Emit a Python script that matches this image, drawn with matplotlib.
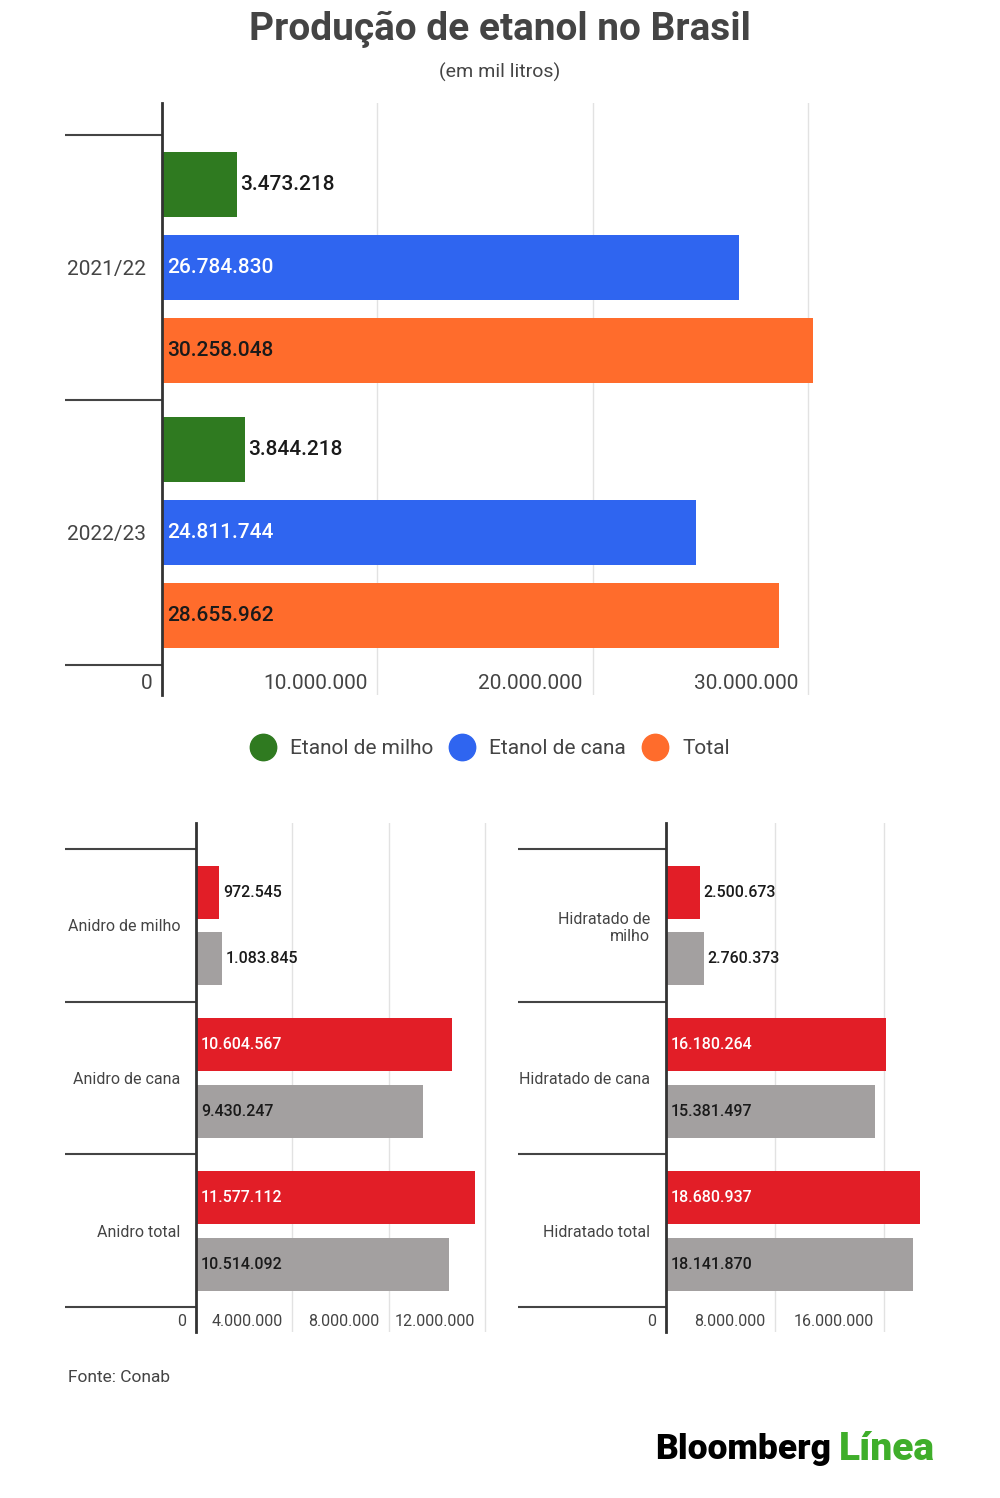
import matplotlib.pyplot as plt
from matplotlib.lines import Line2D

plt.rcParams['font.family'] = ['Roboto', 'DejaVu Sans']

# dados (em mil litros)
safras = ['2021/22', '2022/23']
series_top = ['Etanol de milho', 'Etanol de cana', 'Total']
milho = [3473218, 3844218]
cana = [26784830, 24811744]
total = [30258048, 28655962]
top_ticks = [0, 10000000, 20000000, 30000000]
top_tick_labels = ['0', '10.000.000', '20.000.000', '30.000.000']

anidro_cats = ['Anidro de milho', 'Anidro de cana', 'Anidro total']
anidro_2122 = [972545, 10604567, 11577112]
anidro_2223 = [1083845, 9430247, 10514092]
anidro_ticks = [0, 4000000, 8000000, 12000000]
anidro_tick_labels = ['0', '4.000.000', '8.000.000', '12.000.000']

hidr_cats = ['Hidratado de\nmilho', 'Hidratado de cana', 'Hidratado total']
hidr_2122 = [2500673, 16180264, 18680937]
hidr_2223 = [2760373, 15381497, 18141870]
hidr_ticks = [0, 8000000, 16000000]
hidr_tick_labels = ['0', '8.000.000', '16.000.000']

GREEN = '#2f7a20'
BLUE = '#2f65f0'
ORANGE = '#ff6c2c'
RED = '#e21e27'
GRAY = '#a3a0a0'
DARK = '#444444'
GRID = '#e2e2e2'


def fmt(v):
    return f'{v:,}'.replace(',', '.')


def style_axes(ax, ngroups, sep_len, label_size, cats):
    for s in ['top', 'right', 'bottom']:
        ax.spines[s].set_visible(False)
    ax.spines['left'].set_color('#333333')
    ax.spines['left'].set_linewidth(2)
    ax.spines['left'].set_zorder(5)
    # separadores de categoria = ticks maiores compridos
    ax.set_yticks(range(ngroups + 1))
    ax.set_yticklabels([])
    ax.tick_params(axis='y', which='major', length=sep_len, width=1.5, color=DARK)
    ax.set_yticks([g + 0.5 for g in range(ngroups)], minor=True)
    ax.set_yticklabels(cats, minor=True, fontsize=label_size, color=DARK)
    ax.tick_params(axis='y', which='minor', length=0, pad=11.5)
    ax.set_xticklabels([])
    ax.tick_params(axis='x', length=0)
    ax.grid(axis='x', color=GRID, linewidth=1)
    ax.set_axisbelow(True)


def xlabels(ax, ticks, labels, size, dy):
    for t, lbl in zip(ticks, labels):
        ax.annotate(lbl, xy=(t, 0), xycoords=('data', 'axes fraction'),
                    xytext=(-7, dy), textcoords='offset points',
                    ha='right', va='center', fontsize=size, color=DARK)


def value_label(ax, v, y, inside, color, size, weight):
    if inside:
        ax.annotate(fmt(v), xy=(0, y), xytext=(3.5, 0), textcoords='offset points',
                    ha='left', va='center', fontsize=size, color=color, weight=weight)
    else:
        ax.annotate(fmt(v), xy=(v, y), xytext=(2.5, 0), textcoords='offset points',
                    ha='left', va='center', fontsize=size, color='#1a1a1a', weight=weight)


fig = plt.figure(figsize=(10, 14.98), dpi=100)

fig.text(0.5, 1 - 29 / 1498, 'Produção de etanol no Brasil', ha='center', va='center',
         fontsize=28, weight='bold', color=DARK)
fig.text(0.5, 1 - 72 / 1498, '(em mil litros)', ha='center', va='center',
         fontsize=14, color=DARK)

# ---- grafico principal
ax = fig.add_axes([0.162, 1 - 695 / 1498, 0.656, 592 / 1498])
step = 0.312
h = 0.245
colors_top = [GREEN, BLUE, ORANGE]
vals_top = [milho, cana, total]
for k, (vals, c, name) in enumerate(zip(vals_top, colors_top, series_top)):
    ys = [g + 0.5 + (k - 1) * step for g in range(len(safras))]
    ax.barh(ys, vals, height=h, color=c, label=name, zorder=3)
    for v, y in zip(vals, ys):
        if k == 0:
            value_label(ax, v, y, False, 'black', 15, 'medium')
        elif k == 1:
            value_label(ax, v, y, True, 'white', 15, 'medium')
        else:
            value_label(ax, v, y, True, '#1a1a1a', 15, 'medium')
ax.set_xlim(0, 30470000)
ax.set_ylim(2.113, -0.121)
ax.set_xticks(top_ticks)
style_axes(ax, len(safras), 70, 15, safras)
xlabels(ax, top_ticks, top_tick_labels, 15, 8.6)

handles = [Line2D([], [], linestyle='none', marker='o', markersize=19, color=c)
           for c in colors_top]
fig.legend(handles, series_top, loc='center', bbox_to_anchor=(0.49, 1 - 749 / 1498),
           ncol=3, frameon=False, fontsize=15, labelcolor=DARK,
           handlelength=1.2, handletextpad=0.7, columnspacing=0.8)

# ---- graficos inferiores
bstep = 0.218
bh = 0.347
panels = [
    ([0.196, 1 - 1332 / 1498, 0.294, 509 / 1498], anidro_cats, anidro_2122, anidro_2223,
     12200000, anidro_ticks, anidro_tick_labels, 94),
    ([0.666, 1 - 1332 / 1498, 0.264, 509 / 1498], hidr_cats, hidr_2122, hidr_2223,
     19400000, hidr_ticks, hidr_tick_labels, 106.5),
]
for rect, cats, a, b, xmax, ticks, tlabels, sep in panels:
    bx = fig.add_axes(rect)
    for k, (vals, c, txtc) in enumerate([(a, RED, 'white'), (b, GRAY, '#1a1a1a')]):
        ys = [g + 0.5 + (k * 2 - 1) * bstep for g in range(len(cats))]
        bx.barh(ys, vals, height=bh, color=c, zorder=3)
        for v, y in zip(vals, ys):
            value_label(bx, v, y, v > 0.3 * xmax, txtc, 11.5, 'medium')
    bx.set_xlim(0, xmax)
    bx.set_ylim(3.163, -0.17)
    bx.set_xticks(ticks)
    style_axes(bx, len(cats), sep, 11.5, cats)
    xlabels(bx, ticks, tlabels, 11.5, 7.2)

fig.text(0.068, 1 - 1378 / 1498, 'Fonte: Conab', ha='left', va='center',
         fontsize=12.5, color=DARK)

logo = fig.text(0.655, 1 - 1450 / 1498, 'Bloomberg', ha='left', va='center',
                fontsize=25.5, weight='heavy', color='black')
plt.annotate('Línea', xy=(1, 0.5), xycoords=logo, xytext=(6, 0), textcoords='offset points',
             ha='left', va='center', fontsize=28, weight='heavy', color='#3fae2a')

fig.savefig('out.png', dpi=100, facecolor='white')
